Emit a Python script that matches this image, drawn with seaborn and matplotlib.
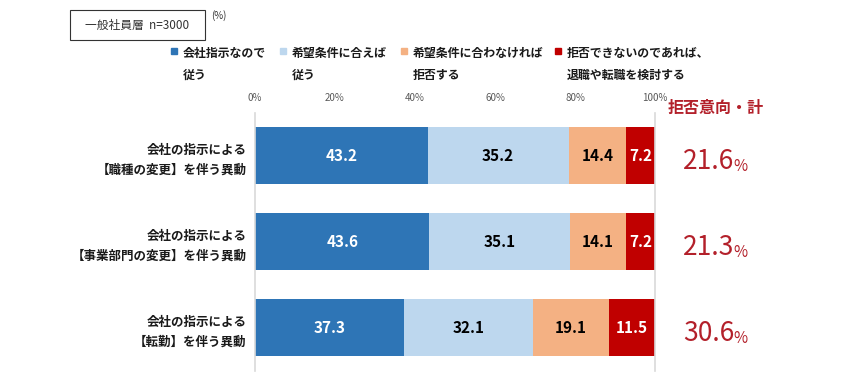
import matplotlib
matplotlib.use('Agg')
import matplotlib.pyplot as plt
import matplotlib.patches as mpatches
import numpy as np
import pandas as pd
import seaborn as sns

# データ
categories = ['会社の指示による\n【職種の変更】を伴う異動',
              '会社の指示による\n【事業部門の変更】を伴う異動',
              '会社の指示による\n【転勤】を伴う異動']
series_names = ['会社指示なので\n従う', '希望条件に合えば\n従う',
                '希望条件に合わなければ\n拒否する', '拒否できないのであれば、\n退職や転職を検討する']
follow = [43.2, 43.6, 37.3]
follow_if = [35.2, 35.1, 32.1]
refuse_if = [14.4, 14.1, 19.1]
quit_ = [7.2, 7.2, 11.5]
refuse_total = [21.6, 21.3, 30.6]
xticks = [0, 20, 40, 60, 80, 100]

colors = ['#2E75B6', '#BDD7EE', '#F4B183', '#C00000']
text_colors = ['white', 'black', 'black', 'white']
red_txt = '#B3202A'

sns.set_theme(style='white')
plt.rcParams['font.family'] = ['Noto Sans CJK JP', 'DejaVu Sans']

W, H = 846, 390
fig = plt.figure(figsize=(W / 100, H / 100), dpi=100)
ax = fig.add_axes([0.3014, 0.05, 0.4728, 0.6615])

vals = np.array([follow, follow_if, refuse_if, quit_])
cum = vals.cumsum(axis=0)
# 累積値を大きい順に重ねて描く
for i in range(3, -1, -1):
    df = pd.DataFrame({'cat': categories, 'v': cum[i]})
    sns.barplot(data=df, x='v', y='cat', orient='h', color=colors[i],
                saturation=1, width=0.66, ax=ax, edgecolor='none')

for i in range(4):
    for j in range(3):
        ax.text(cum[i][j] - vals[i][j] / 2, j, f'{vals[i][j]:.1f}',
                ha='center', va='center', fontsize=11, fontweight='bold',
                color=text_colors[i])

ax.set_xlim(0, 100)
ax.set_ylim(2.5, -0.5)
ax.set_xlabel('')
ax.set_ylabel('')
ax.xaxis.tick_top()
ax.set_xticks(xticks)
ax.set_xticklabels([f'{t}%' for t in xticks], fontsize=7, color='#595959')
ax.tick_params(axis='x', length=0, pad=7)
ax.tick_params(axis='y', length=0, pad=6)
for lab in ax.get_yticklabels():
    lab.set_fontsize(9)
    lab.set_fontweight('bold')
    lab.set_linespacing(1.7)
    lab.set_color('#1a1a1a')
for s in ['top', 'bottom']:
    ax.spines[s].set_visible(False)
for s in ['left', 'right']:
    ax.spines[s].set_color('#D9D9D9')
    ax.spines[s].set_linewidth(1.2)

# 凡例（手置き）
leg_x = [174, 283, 404, 558]
for c, name, x in zip(colors, series_names, leg_x):
    fig.patches.append(mpatches.Rectangle(((x - 3) / W, 1 - 54 / H), 6 / W, 6 / H,
                                          transform=fig.transFigure, color=c))
    fig.text((x + 9) / W, 1 - 47 / H, name, ha='left', va='top', fontsize=8.6,
             fontweight='bold', color='#1a1a1a', linespacing=1.9)

# 左上の枠
fig.patches.append(mpatches.Rectangle((70 / W, 1 - 40 / H), 135 / W, 30 / H,
                                      transform=fig.transFigure, facecolor='white',
                                      edgecolor='#333333', linewidth=0.8))
fig.text(137 / W, 1 - 25 / H, '一般社員層  n=3000', ha='center', va='center',
         fontsize=8.5, color='#333333')
fig.text(211 / W, 1 - 16 / H, '(%)', ha='left', va='center', fontsize=7, color='#333333')

# 拒否意向・計
fig.text(716 / W, 1 - 108 / H, '拒否意向・計', ha='center', va='center',
         fontsize=11.5, fontweight='bold', color=red_txt)
fig.canvas.draw()
for j in range(3):
    y = ax.transData.transform((0, j))[1] / H - 6 / H
    t = fig.text(683 / W, y, f'{refuse_total[j]:.1f}', ha='left', va='center',
                 fontsize=19, color=red_txt)
    bb = t.get_window_extent(renderer=fig.canvas.get_renderer())
    fig.text((bb.x1 - 1) / W, y - 0.012, '%', ha='left', va='center',
             fontsize=11, color=red_txt)

fig.savefig('out.png', dpi=100)
